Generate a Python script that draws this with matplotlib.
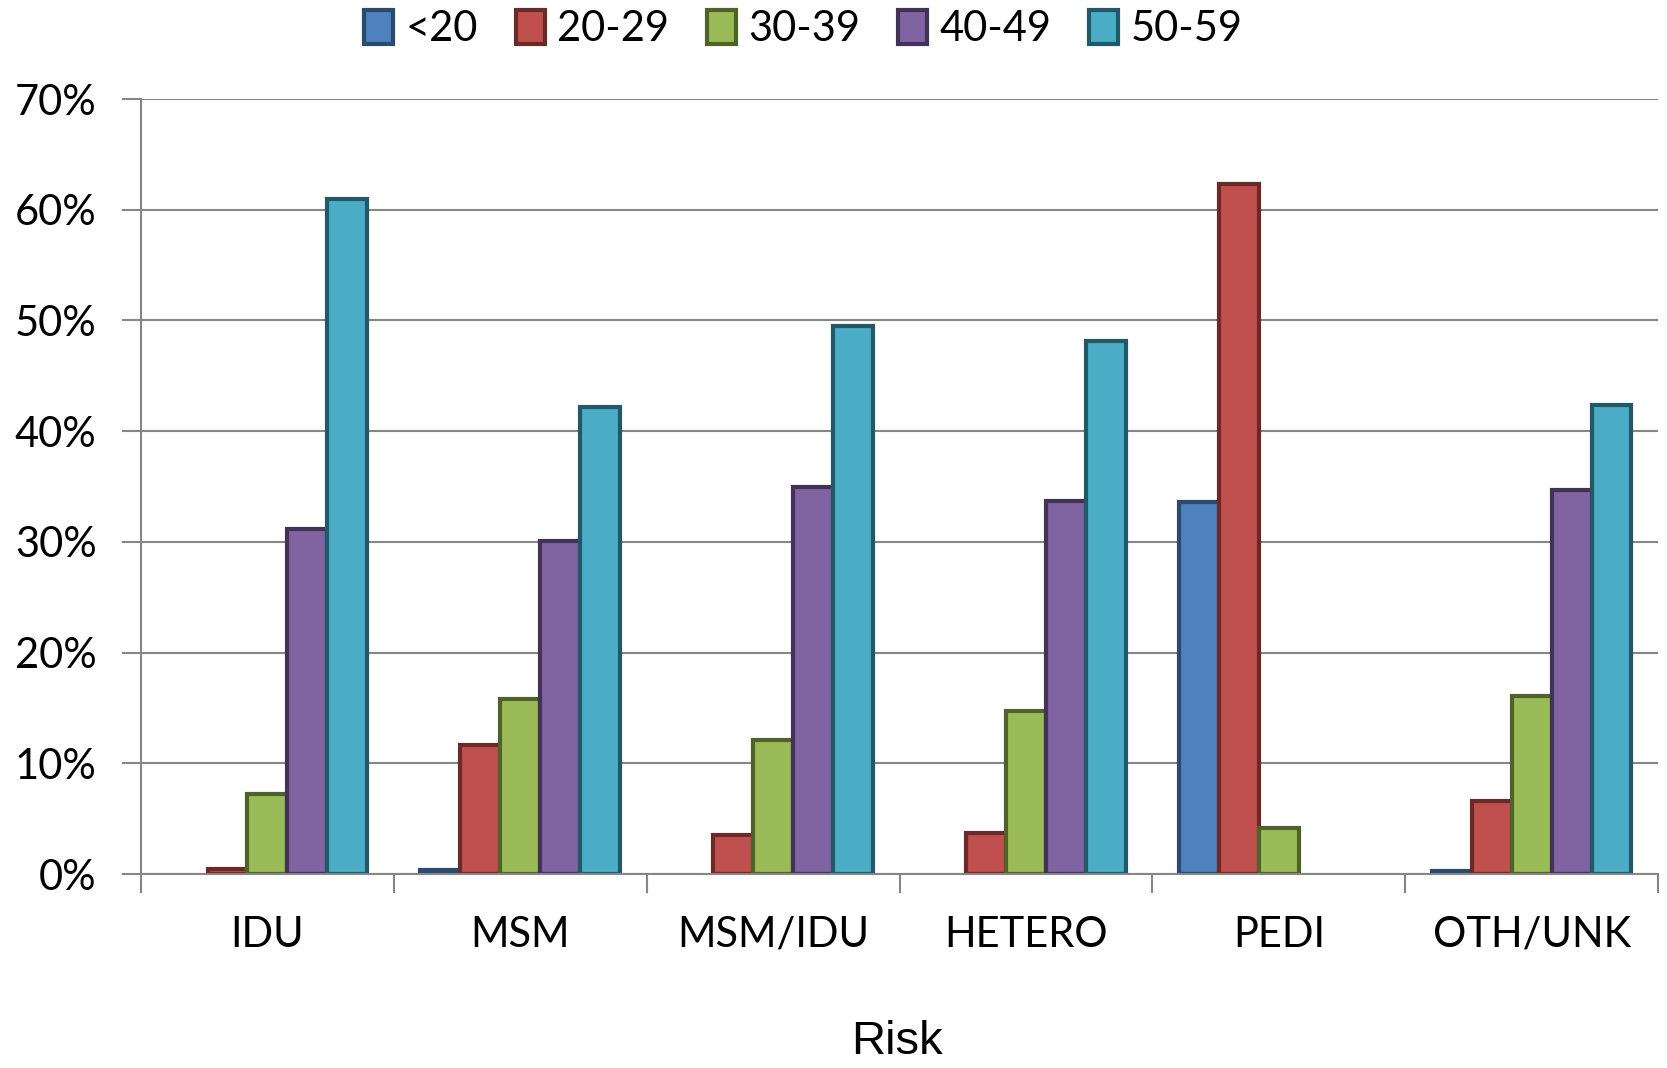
import matplotlib.pyplot as plt
import numpy as np

# Share of cases by age group within each transmission risk category
risks = ['IDU', 'MSM', 'MSM/IDU', 'HETERO', 'PEDI', 'OTH/UNK']
ages = ['<20', '20-29', '30-39', '40-49', '50-59']

under20 = [0.0, 0.4, 0.0, 0.0, 33.6, 0.3]
age20_29 = [0.5, 11.7, 3.5, 3.7, 62.3, 6.6]
age30_39 = [7.2, 15.8, 12.1, 14.7, 4.2, 16.1]
age40_49 = [31.2, 30.1, 35.0, 33.7, 0.0, 34.7]
age50_59 = [61.0, 42.2, 49.5, 48.1, 0.0, 42.4]

fills = ['#4F81BD', '#C0504D', '#9BBB59', '#8064A2', '#4BACC6']
edges = ['#2A4A70', '#6B2A28', '#4F6228', '#433258', '#215968']

plt.rcParams['font.family'] = ['Lato', 'DejaVu Sans']

fig = plt.figure(figsize=(16.67, 10.68), dpi=100)
ax = fig.add_axes([0.0846, 0.1816, 0.91, 0.7257])

series = [under20, age20_29, age30_39, age40_49, age50_59]
width = 0.158
x = np.arange(len(risks))
handles = []
for i, vals in enumerate(series):
    vals = np.array(vals)
    pos = x + (i - 2) * width
    keep = vals > 0
    ax.bar(pos[keep], vals[keep], width, color=fills[i], edgecolor=edges[i],
           linewidth=3, zorder=3)
    # legend handle
    h = ax.bar([np.nan], [np.nan], width, color=fills[i], edgecolor=edges[i],
               linewidth=3, label=ages[i])
    handles.append(h)

ax.set_xlim(-0.5, 5.5)
ax.set_ylim(0, 70)
ax.set_yticks(np.arange(0, 71, 10))
ax.set_yticklabels([f'{v}%' for v in range(0, 71, 10)], fontsize=30)
ax.set_xticks(x)
ax.set_xticklabels(risks, fontsize=30)
ax.tick_params(axis='x', length=0, pad=30)
ax.set_xticks(np.arange(-0.5, 6, 1), minor=True)
ax.tick_params(axis='x', which='minor', length=14, color='#868686', width=1.5)
ax.tick_params(axis='y', length=14, color='#868686', width=1.5, pad=18)

ax.yaxis.grid(True, color='#868686', linewidth=1.5, zorder=0)
for s in ['top', 'right']:
    ax.spines[s].set_visible(False)
for s in ['left', 'bottom']:
    ax.spines[s].set_color('#868686')
    ax.spines[s].set_linewidth(1.5)
ax.spines['bottom'].set_zorder(4)

fig.text(0.538, 0.024, 'Risk', fontsize=34, ha='center', va='center',
         family=['Liberation Sans'])

fig.legend(handles=handles, labels=ages, loc='center', bbox_to_anchor=(0.482, 0.973),
           ncol=5, frameon=False, fontsize=30, handlelength=0.7, handleheight=0.9,
           handletextpad=0.3, columnspacing=0.9)

fig.savefig('out.png', dpi=100)
